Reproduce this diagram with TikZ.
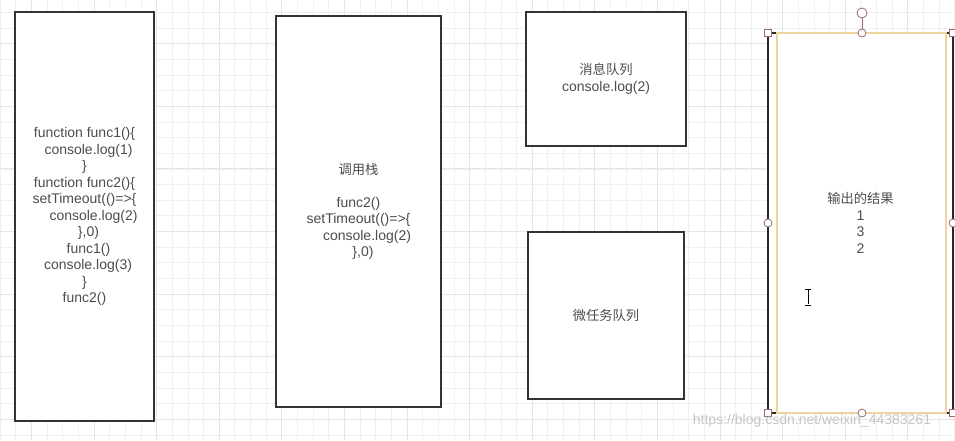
\documentclass[tikz,border=0pt]{standalone}
\usepackage{fontspec}
\setmainfont{Liberation Sans}
\newfontfamily\cjk[Scale=0.95]{Noto Sans CJK SC}
\definecolor{txtgray}{HTML}{4D4D4D}
\definecolor{boxline}{HTML}{333333}
\definecolor{outline}{HTML}{2E2529}
\definecolor{handle}{HTML}{9A6B7A}
\definecolor{selline}{HTML}{F0D49E}
\definecolor{minorgray}{HTML}{F0F0F0}
\definecolor{majorgray}{HTML}{E6E6E6}
\begin{document}
\begin{tikzpicture}[x=1pt,y=-1pt,
    box/.style={draw=boxline, line width=1.4pt, fill=white, text=txtgray,
        align=center, inner sep=0pt, font=\fontsize{14}{16.5}\selectfont},
    minorgrid/.style={draw=minorgray, line width=0.6pt},
    majorgrid/.style={draw=majorgray, line width=0.7pt},
    handlesq/.style={draw=handle, fill=white, line width=0.8pt,
        minimum size=7pt, inner sep=0pt},
    handlecirc/.style={circle, draw=handle, fill=white, line width=0.8pt,
        minimum size=8pt, inner sep=0pt}]
    \useasboundingbox[fill=white] (0,0) rectangle (955,440);

    % background grid
    \foreach \i in {0,...,61}
        \draw[minorgrid] ({15.65*\i},0) -- ({15.65*\i},440);
    \foreach \j in {-1,...,27}
        \draw[minorgrid] (0,{12.3+15.65*\j}) -- (955,{12.3+15.65*\j});
    \foreach \i in {2,6,...,60}
        \draw[majorgrid] ({15.65*\i},0) -- ({15.65*\i},440);
    \foreach \j in {2,6,...,26}
        \draw[majorgrid] (0,{12.3+15.65*\j}) -- (955,{12.3+15.65*\j});

    % boxes
    \node[box, minimum width=139pt, minimum height=409pt] (code) at (84.5,216.5)
        {function func1()\{\\
         \hspace*{8pt}console.log(1)\\
         \}\\
         function func2()\{\\
         setTimeout(()=>\{\\
         \hspace*{18pt}console.log(2)\\
         \hspace*{8pt}\},0)\\
         \hspace*{8pt}func1()\\
         \hspace*{7pt}console.log(3)\\
         \}\\
         func2()};
    \node[box, minimum width=165pt, minimum height=391pt] (stack) at (358.5,211.5)
        {{\cjk 调用栈}\\[16.5pt]
         func2()\\
         setTimeout(()=>\{\\
         \hspace*{17pt}console.log(2)\\
         \hspace*{9pt}\},0)};
    \node[box, minimum width=160pt, minimum height=134pt] (macro) at (606,79)
        {{\cjk 消息队列}\\console.log(2)};
    \node[box, minimum width=156pt, minimum height=167pt] (micro) at (606,315.5)
        {{\cjk 微任务队列}};
    \node[box, draw=outline, minimum width=185pt, minimum height=380pt] (out) at (860.5,223)
        {{\cjk 输出的结果}\\1\\3\\2};

    % selection frame
    \draw[selline, line width=1.2pt] (777,33) rectangle (946,413);
    \node[handlecirc, minimum size=10pt] (hrot) at (862,13) {};
    \node[handlecirc] (hn) at (862,33) {};
    \draw[handle, line width=0.8pt] (hrot) -- (hn);
    \node[handlecirc] (hs) at (862,413) {};
    \node[handlecirc] (hw) at (768,223) {};
    \node[handlecirc] (he) at (953,223) {};
    \node[handlesq] (hnw) at (768,33) {};
    \node[handlesq] (hne) at (953,33) {};
    \node[handlesq] (hsw) at (768,413) {};
    \node[handlesq] (hse) at (953,413) {};

    % text cursor
    \draw[black, line width=0.9pt] (808,290) -- (808,304);
    \draw[black, line width=0.7pt] (805,289) -- (811,289);
    \draw[black, line width=0.7pt] (805,305) -- (811,305);

    % watermark
    \node[text=gray!45, font=\fontsize{14}{16}\selectfont, inner sep=0pt] (mark) at (812,421)
        {https://blog.csdn.net/weixin\_44383261};
\end{tikzpicture}
\end{document}
